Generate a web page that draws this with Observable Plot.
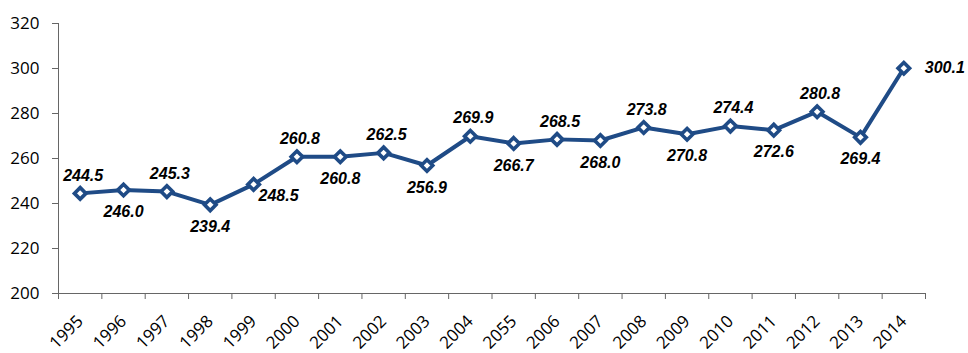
<!DOCTYPE html>
<html>
<head>
<meta charset="utf-8">
<script src="https://cdn.jsdelivr.net/npm/d3@7"></script>
<script src="https://cdn.jsdelivr.net/npm/@observablehq/plot@0.6"></script>
<style>
  html, body { margin: 0; padding: 0; background: #fff; }
</style>
</head>
<body>
<div id="chart"></div>
<script>
// Data
const years = ["1995","1996","1997","1998","1999","2000","2001","2002","2003","2004",
               "2055","2006","2007","2008","2009","2010","2011","2012","2013","2014"];
const values = [244.5, 246.0, 245.3, 239.4, 248.5, 260.8, 260.8, 262.5, 256.9, 269.9,
                266.7, 268.5, 268.0, 273.8, 270.8, 274.4, 272.6, 280.8, 269.4, 300.1];
const yTicks = [200, 220, 240, 260, 280, 300, 320];

// label placement (style)
const labelPlacement = ["above","below","above","below","right-below","above","below","above","below","above",
                        "below","above","below","above","below","above","below","above","below","right"];

const rows = years.map((yr, i) => ({i, year: yr, value: values[i], pos: labelPlacement[i]}));

const blue = "#1f4b86";
const axisColor = "#666666";
const labelFont = {fontFamily: "'Liberation Sans', Arial, sans-serif", fontWeight: "bold", fontStyle: "italic", fontSize: 16, fill: "#000"};

const chart = Plot.plot({
  width: 968,
  height: 353,
  marginLeft: 58,
  marginRight: 43,
  marginTop: 23,
  marginBottom: 60,
  style: {fontFamily: "'Open Sans', sans-serif", background: "#fff"},
  x: {domain: [0, years.length], axis: null},
  y: {domain: [200, 320], axis: null},
  marks: [
    Plot.axisY({ticks: yTicks, tickSize: 6, tickPadding: 13, fontSize: 17, stroke: axisColor, fill: "#000", tickFormat: d => d, label: null}),
    Plot.axisX({ticks: d3.range(0, years.length + 1), tickSize: 6, tickFormat: () => "", stroke: axisColor, label: null}),
    Plot.axisX({ticks: d3.range(0, years.length).map(i => i + 0.5), tickSize: 0, tickPadding: 25, tickRotate: -45,
                fontSize: 17, fill: "#000", tickFormat: d => years[Math.floor(d)], label: null}),
    Plot.ruleX([0], {stroke: axisColor, strokeWidth: 1}),
    Plot.ruleY([200], {stroke: axisColor, strokeWidth: 1}),
    Plot.line(rows, {x: d => d.i + 0.5, y: "value", stroke: blue, strokeWidth: 4, strokeLinejoin: "round"}),
    Plot.dot(rows, {x: d => d.i + 0.5, y: "value", symbol: "diamond2", r: 5.2, fill: "#fff", stroke: blue, strokeWidth: 3.6}),
    Plot.text(rows.filter(d => d.pos === "above"), {x: d => d.i + 0.5, y: "value", text: d => d.value.toFixed(1), dx: 3, dy: -18, ...labelFont}),
    Plot.text(rows.filter(d => d.pos === "below"), {x: d => d.i + 0.5, y: "value", text: d => d.value.toFixed(1), dx: 0, dy: 22, ...labelFont}),
    Plot.text(rows.filter(d => d.pos === "right-below"), {x: d => d.i + 0.5, y: "value", text: d => d.value.toFixed(1), dx: 25, dy: 11, ...labelFont}),
    Plot.text(rows.filter(d => d.pos === "right"), {x: d => d.i + 0.5, y: "value", text: d => d.value.toFixed(1), dx: 41, dy: 0, ...labelFont})
  ]
});
document.getElementById("chart").appendChild(chart);
</script>
</body>
</html>
